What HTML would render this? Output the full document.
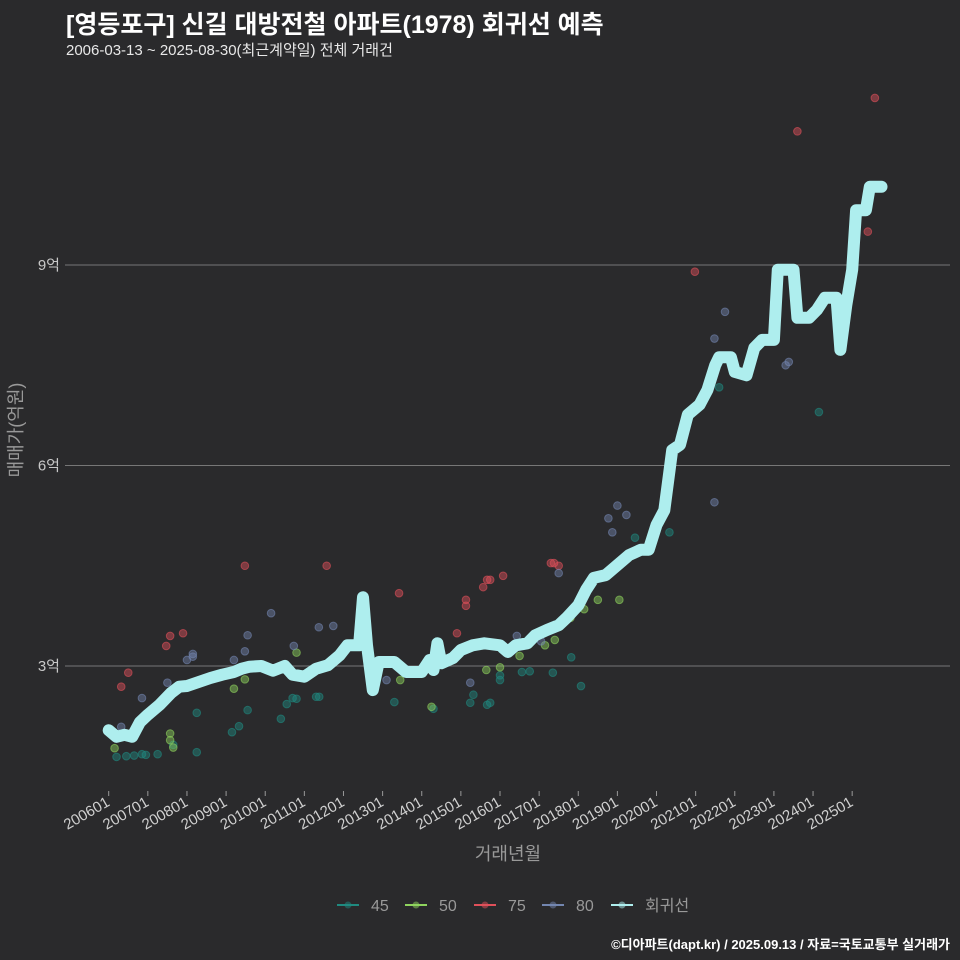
<!DOCTYPE html>
<html><head><meta charset="utf-8">
<style>
html,body{margin:0;padding:0;background:#2a2a2c;}
#wrap{position:relative;width:960px;height:960px;background:#2a2a2c;font-family:"Liberation Sans","Noto Sans CJK KR",sans-serif;overflow:hidden;}
.t{position:absolute;white-space:nowrap;}
</style></head>
<body>
<div id="wrap">
<div class="t" style="left:66px;top:5px;font-size:25px;font-weight:bold;color:#fff;">[영등포구] 신길 대방전철 아파트(1978) 회귀선 예측</div>
<div class="t" style="left:66px;top:39px;font-size:15px;color:#e8e8e8;">2006-03-13 ~ 2025-08-30(최근계약일) 전체 거래건</div>
<svg id="svg" width="960" height="960" style="position:absolute;left:0;top:0"></svg>
<div class="t" style="right:10px;top:934px;font-size:13px;font-weight:bold;color:#fff;">©디아파트(dapt.kr) / 2025.09.13 / 자료=국토교통부 실거래가</div>
</div>
<script>
const yTicks=[3,6,9];
const yTickLabels=["3억","6억","9억"];
const xTickYears=[2006,2007,2008,2009,2010,2011,2012,2013,2014,2015,2016,2017,2018,2019,2020,2021,2022,2023,2024,2025];
const xTickLabels=["200601","200701","200801","200901","201001","201101","201201","201301","201401","201501","201601","201701","201801","201901","202001","202101","202201","202301","202401","202501"];
const regT=[2006.0,2006.2,2006.4,2006.6,2006.8,2007.0,2007.3,2007.6,2007.8,2008.0,2008.3,2008.6,2008.9,2009.2,2009.4,2009.6,2009.9,2010.2,2010.5,2010.7,2011.0,2011.3,2011.6,2011.9,2012.1,2012.4,2012.5,2012.6,2012.75,2012.9,2013.3,2013.6,2014.0,2014.2,2014.3,2014.4,2014.5,2014.8,2015.0,2015.3,2015.6,2016.0,2016.2,2016.4,2016.7,2016.9,2017.2,2017.5,2017.7,2018.0,2018.2,2018.4,2018.7,2019.0,2019.3,2019.6,2019.8,2020.0,2020.2,2020.4,2020.6,2020.8,2021.1,2021.3,2021.5,2021.6,2021.9,2022.0,2022.3,2022.5,2022.7,2023.0,2023.1,2023.5,2023.6,2023.9,2024.1,2024.3,2024.6,2024.7,2024.85,2025.0,2025.1,2025.35,2025.45,2025.75];
const regV=[2.04,1.94,1.97,1.94,2.16,2.27,2.42,2.6,2.69,2.7,2.76,2.82,2.87,2.91,2.96,2.99,3.0,2.93,3.0,2.87,2.84,2.96,3.01,3.16,3.31,3.31,4.03,3.31,2.64,3.06,3.06,2.91,2.91,3.09,2.94,3.34,3.04,3.12,3.24,3.31,3.34,3.31,3.21,3.31,3.34,3.46,3.54,3.61,3.72,3.91,4.14,4.32,4.36,4.51,4.66,4.74,4.74,5.11,5.33,6.23,6.31,6.76,6.91,7.13,7.5,7.62,7.62,7.4,7.35,7.76,7.88,7.88,8.93,8.93,8.21,8.21,8.33,8.51,8.51,7.73,8.4,8.93,9.82,9.82,10.17,10.17];
const s45T=[2006.2,2006.45,2006.65,2006.85,2006.95,2007.25,2007.65,2008.25,2008.25,2009.15,2009.33,2009.55,2010.4,2010.55,2010.7,2010.8,2011.3,2011.38,2013.3,2014.3,2015.24,2015.32,2015.67,2015.75,2016.0,2016.0,2016.56,2016.76,2017.35,2017.82,2018.07,2019.45,2020.33,2021.6,2024.15];
const s45V=[1.64,1.65,1.66,1.68,1.67,1.68,1.82,1.71,2.3,2.01,2.1,2.34,2.21,2.43,2.52,2.51,2.54,2.54,2.46,2.36,2.45,2.57,2.42,2.45,2.79,2.86,2.91,2.92,2.9,3.13,2.7,4.92,5.0,7.17,6.8];
const s50T=[2006.15,2007.57,2007.57,2007.65,2009.2,2009.48,2010.8,2013.45,2014.25,2015.65,2016.0,2016.5,2017.15,2017.4,2017.8,2018.15,2018.5,2019.05];
const s50V=[1.77,1.89,1.99,1.78,2.66,2.8,3.2,2.79,2.39,2.94,2.98,3.15,3.31,3.39,3.72,3.85,3.99,3.99];
const s75T=[2006.32,2006.5,2007.47,2007.57,2007.9,2009.48,2011.57,2013.42,2014.9,2015.13,2015.13,2015.57,2015.67,2015.75,2016.08,2017.3,2017.38,2017.5,2020.6,2020.98,2023.6,2025.4,2025.58];
const s75V=[2.69,2.9,3.3,3.45,3.49,4.5,4.5,4.09,3.49,3.99,3.9,4.18,4.29,4.29,4.35,4.54,4.54,4.5,6.38,8.9,11.0,9.5,11.5];
const s80T=[2006.32,2006.85,2007.5,2008.0,2008.15,2008.15,2009.2,2009.48,2009.55,2010.15,2010.73,2011.37,2011.74,2013.1,2015.24,2016.43,2017.05,2017.5,2018.77,2018.87,2019.0,2019.23,2021.48,2021.48,2021.75,2023.3,2023.38];
const s80V=[2.09,2.52,2.75,3.09,3.18,3.14,3.09,3.22,3.46,3.79,3.3,3.58,3.6,2.79,2.75,3.45,3.37,4.39,5.21,5.0,5.4,5.26,5.45,7.9,8.3,7.5,7.55];

const X=t=>108.7+(t-2006)*39.13;
const Y=v=>666-(v-3)*66.83;
const NS="http://www.w3.org/2000/svg";
const svg=document.getElementById('svg');
function mk(tag,attrs,parent){const e=document.createElementNS(NS,tag);for(const k in attrs)e.setAttribute(k,attrs[k]);(parent||svg).appendChild(e);return e;}

yTicks.forEach((v,i)=>{
  const g=mk('line',{x1:65,x2:950,y1:Y(v),y2:Y(v),stroke:'#777','stroke-width':1});
  
  
  const tx=mk('text',{x:60,y:Y(v)+5,'text-anchor':'end','font-size':15,fill:'#c8c8c8'});
  tx.textContent=yTickLabels[i];
  
  
});
xTickYears.forEach((yr,i)=>{
  const x=X(yr);
  const tk=mk('line',{x1:x,x2:x,y1:791,y2:796,stroke:'#999','stroke-width':1});
  
  
  const tx=mk('text',{x:x+2,y:805,'text-anchor':'end','font-size':15,fill:'#d0d0d0',transform:`rotate(-30 ${x+2} 805)`});
  tx.textContent=xTickLabels[i];
  
  
});
const xt=mk('text',{x:508,y:860,'text-anchor':'middle','font-size':18,fill:'#999'});
xt.textContent='거래년월';


const yt=mk('text',{x:22,y:430,'text-anchor':'middle','font-size':18,fill:'#999',transform:'rotate(-90 22 430)'});
yt.textContent='매매가(억원)';



function scatter(T,V,color,name){
  T.forEach((t,i)=>{
    const c=mk('circle',{cx:X(t),cy:Y(V[i]),r:3.8,fill:color,'fill-opacity':0.45,stroke:color,'stroke-opacity':0.6,'stroke-width':1});
    
    
  });
}
scatter(s45T,s45V,'#1f8a80','point-45');
scatter(s50T,s50V,'#8fd45e','point-50');
scatter(s75T,s75V,'#e0505a','point-75');
scatter(s80T,s80V,'#7386b0','point-80');

const pts=regT.map((t,i)=>X(t).toFixed(1)+','+Y(regV[i]).toFixed(1)).join(' ');
const pl=mk('polyline',{points:pts,fill:'none',stroke:'#aeeeee','stroke-width':12,'stroke-linejoin':'round','stroke-linecap':'round'});



const legend=[['45','#1f8a80',337],['50','#8fd45e',405],['75','#e0505a',474],['80','#7386b0',542],['회귀선','#aeeeee',611]];
legend.forEach(([lab,col,x])=>{
  const g=mk('g',{});
  
  
  mk('line',{x1:x,x2:x+22,y1:905,y2:905,stroke:col,'stroke-width':2},g);
  mk('circle',{cx:x+11,cy:905,r:3.5,fill:col,'fill-opacity':0.5},g);
  const t=mk('text',{x:x+34,y:911,'font-size':16,fill:'#999'},g);
  t.textContent=lab;
});
</script>
</body></html>
